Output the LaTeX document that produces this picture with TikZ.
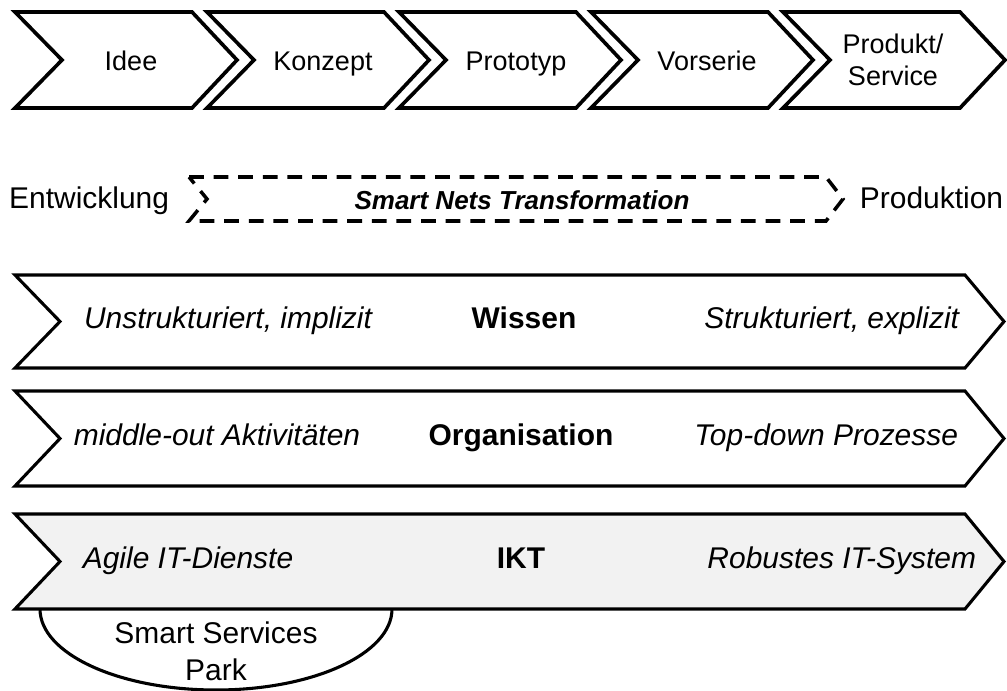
\documentclass[tikz,border=0pt]{standalone}
\usepackage{fontspec}
\setmainfont{Liberation Sans}
\usetikzlibrary{positioning}
\definecolor{snGray}{HTML}{F2F2F2}
\tikzset{
  phaseArrow/.style={draw=black, line width=2.6pt, fill=white, line join=miter},
  rowArrow/.style={draw=black, line width=2.2pt, line join=miter},
  transArrow/.style={draw=black, line width=2.5pt, dash pattern=on 10.5pt off 7pt},
  phaseLabel/.style={font=\fontsize{19.2pt}{22.8pt}\selectfont, align=center},
  rowLabel/.style={font=\fontsize{21.3pt}{24pt}\selectfont\itshape, anchor=base},
  rowTitle/.style={font=\fontsize{21.3pt}{24pt}\selectfont\bfseries, anchor=base},
  sideLabel/.style={font=\fontsize{21.3pt}{26.3pt}\selectfont, align=center},
  transLabel/.style={font=\fontsize{18.5pt}{22pt}\selectfont\bfseries\itshape, anchor=base}
}

\begin{document}
\begin{tikzpicture}[x=0.025cm,y=-0.025cm]
  \useasboundingbox (0,0) rectangle (1007,691);
  % phases
  \foreach \i in {0,...,4}
  {
    \draw[phaseArrow] ({15+192*\i},12) -- ({192+192*\i},12) -- ({237+192*\i},60)
      -- ({192+192*\i},108) -- ({15+192*\i},108) -- ({62+192*\i},60) -- cycle;
  }
  \node[phaseLabel, anchor=base] (idee) at (131,70) {Idee};
  \node[phaseLabel, anchor=base] (konzept) at (323,70) {Konzept};
  \node[phaseLabel, anchor=base] (prototyp) at (516,70) {Prototyp};
  \node[phaseLabel, anchor=base] (vorserie) at (707,70) {Vorserie};
  \node[phaseLabel] (produkt) at (893,60) {Produkt/\\Service};

  % transformation
  \draw[transArrow] (189,177) -- (826,177) -- (843,199) -- (826,221) -- (189,221) -- (207,199) -- cycle;
  \node[transLabel] (trans) at (522,209) {Smart Nets Transformation};
  \node[sideLabel, anchor=base east] (entw) at (174,208) {Entwicklung};
  \node[sideLabel, anchor=base west] (prod) at (855,208) {Produktion};

  % rows
  \draw[rowArrow, fill=white] (15,275) -- (965,275) -- (1004,321.5) -- (965,368) -- (15,368) -- (60,321.5) -- cycle;
  \draw[rowArrow, fill=white] (15,391) -- (965,391) -- (1004,438.5) -- (965,486) -- (15,486) -- (60,438.5) -- cycle;
  \draw[rowArrow, fill=white] (40,609) arc[start angle=180, end angle=0, x radius=176, y radius=81];
  \draw[rowArrow, fill=snGray] (15,514) -- (965,514) -- (1004,561.5) -- (965,609) -- (15,609) -- (60,561.5) -- cycle;

  \node[rowLabel] (unstr) at (228,328) {Unstrukturiert, implizit};
  \node[rowTitle] (wissen) at (524,328) {Wissen};
  \node[rowLabel, anchor=base east] (str) at (964,328) {Strukturiert, explizit};

  \node[rowLabel] (middle) at (217,445) {middle-out Aktivitäten};
  \node[rowTitle] (orga) at (521,445) {Organisation};
  \node[rowLabel, anchor=base east] (top) at (963,445) {Top-down Prozesse};

  \node[rowLabel] (agile) at (188,568) {Agile IT-Dienste};
  \node[rowTitle] (ikt) at (521,568) {IKT};
  \node[rowLabel, anchor=base east] (robust) at (981,568) {Robustes IT-System};

  \node[sideLabel] (park) at (216,651) {Smart Services\\Park};
\end{tikzpicture}
\end{document}
